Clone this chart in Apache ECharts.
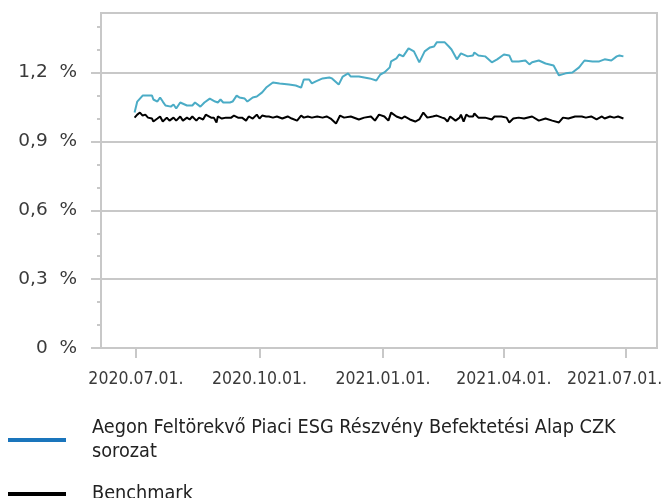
<!DOCTYPE html>
<html>
<head>
<meta charset="utf-8">
<script src="https://cdn.jsdelivr.net/npm/echarts@6/dist/echarts.min.js"></script>
<style>
html,body{margin:0;padding:0;background:#fff;}
#chart{width:664px;height:498px;}
</style>
</head>
<body>
<div id="chart"></div>
<script>
const fundName = 'Aegon Feltörekvő Piaci ESG Részvény Befektetési Alap CZK sorozat';
const benchName = 'Benchmark';

const fundDates = ['2020-06-30','2020-07-02','2020-07-06','2020-07-13','2020-07-14','2020-07-17','2020-07-19','2020-07-21','2020-07-23','2020-07-27','2020-07-29','2020-07-31','2020-08-03','2020-08-08','2020-08-12','2020-08-14','2020-08-18','2020-08-21','2020-08-25','2020-08-29','2020-08-31','2020-09-02','2020-09-04','2020-09-09','2020-09-11','2020-09-14','2020-09-16','2020-09-20','2020-09-22','2020-09-26','2020-09-29','2020-10-03','2020-10-06','2020-10-11','2020-10-16','2020-10-23','2020-10-28','2020-11-01','2020-11-03','2020-11-07','2020-11-09','2020-11-12','2020-11-17','2020-11-22','2020-11-24','2020-11-29','2020-12-02','2020-12-06','2020-12-08','2020-12-14','2020-12-18','2020-12-22','2020-12-27','2020-12-30','2021-01-02','2021-01-06','2021-01-07','2021-01-11','2021-01-13','2021-01-16','2021-01-20','2021-01-24','2021-01-28','2021-02-01','2021-02-05','2021-02-08','2021-02-10','2021-02-16','2021-02-19','2021-02-21','2021-02-25','2021-02-28','2021-03-05','2021-03-09','2021-03-10','2021-03-13','2021-03-18','2021-03-23','2021-03-27','2021-04-01','2021-04-05','2021-04-07','2021-04-12','2021-04-17','2021-04-20','2021-04-22','2021-04-27','2021-05-02','2021-05-08','2021-05-12','2021-05-17','2021-05-22','2021-05-27','2021-05-31','2021-06-06','2021-06-11','2021-06-15','2021-06-20','2021-06-24','2021-06-26','2021-06-29'];
const fundValues = [1.026,1.074,1.100,1.100,1.083,1.074,1.092,1.074,1.057,1.052,1.061,1.044,1.070,1.057,1.057,1.070,1.052,1.070,1.087,1.074,1.070,1.083,1.070,1.070,1.074,1.100,1.092,1.087,1.074,1.092,1.096,1.114,1.135,1.157,1.153,1.148,1.144,1.135,1.170,1.170,1.153,1.162,1.175,1.179,1.175,1.148,1.183,1.197,1.183,1.183,1.179,1.175,1.166,1.192,1.201,1.223,1.249,1.262,1.279,1.271,1.306,1.293,1.245,1.293,1.310,1.314,1.332,1.332,1.314,1.301,1.258,1.284,1.271,1.275,1.288,1.275,1.271,1.245,1.258,1.279,1.275,1.249,1.249,1.253,1.236,1.245,1.253,1.240,1.231,1.188,1.197,1.201,1.223,1.253,1.249,1.249,1.258,1.253,1.271,1.275,1.271];

const benchDates = ['2020-06-30','2020-07-02','2020-07-04','2020-07-06','2020-07-08','2020-07-10','2020-07-13','2020-07-14','2020-07-17','2020-07-19','2020-07-21','2020-07-24','2020-07-26','2020-07-29','2020-07-31','2020-08-03','2020-08-05','2020-08-08','2020-08-10','2020-08-12','2020-08-15','2020-08-17','2020-08-20','2020-08-22','2020-08-26','2020-08-28','2020-08-30','2020-08-31','2020-09-03','2020-09-06','2020-09-10','2020-09-12','2020-09-15','2020-09-18','2020-09-21','2020-09-23','2020-09-26','2020-09-29','2020-10-01','2020-10-03','2020-10-06','2020-10-08','2020-10-11','2020-10-14','2020-10-18','2020-10-22','2020-10-25','2020-10-29','2020-11-01','2020-11-03','2020-11-06','2020-11-09','2020-11-13','2020-11-17','2020-11-20','2020-11-23','2020-11-27','2020-11-30','2020-12-03','2020-12-08','2020-12-14','2020-12-18','2020-12-23','2020-12-26','2020-12-29','2021-01-02','2021-01-05','2021-01-07','2021-01-11','2021-01-15','2021-01-17','2021-01-21','2021-01-25','2021-01-28','2021-01-31','2021-02-03','2021-02-07','2021-02-10','2021-02-14','2021-02-16','2021-02-18','2021-02-20','2021-02-24','2021-02-27','2021-02-28','2021-03-02','2021-03-04','2021-03-06','2021-03-09','2021-03-10','2021-03-13','2021-03-18','2021-03-23','2021-03-25','2021-03-30','2021-04-03','2021-04-05','2021-04-08','2021-04-12','2021-04-16','2021-04-22','2021-04-27','2021-05-02','2021-05-07','2021-05-12','2021-05-15','2021-05-19','2021-05-24','2021-05-29','2021-06-01','2021-06-05','2021-06-09','2021-06-13','2021-06-15','2021-06-19','2021-06-22','2021-06-25','2021-06-29'];
const benchValues = [1.004,1.017,1.026,1.013,1.017,1.004,1.000,0.987,1.000,1.009,0.987,1.004,0.991,1.004,0.991,1.009,0.991,1.004,0.996,1.009,0.991,1.004,0.996,1.017,1.004,1.004,0.983,1.009,1.000,1.004,1.004,1.013,1.004,1.004,0.991,1.009,1.000,1.017,1.000,1.013,1.009,1.009,1.004,1.009,1.000,1.009,1.000,0.991,1.013,1.004,1.009,1.004,1.009,1.004,1.009,1.000,0.978,1.013,1.004,1.009,0.996,1.004,1.009,0.991,1.017,1.009,0.991,1.026,1.009,1.000,1.009,0.996,0.987,0.996,1.026,1.004,1.009,1.013,1.004,1.000,0.987,1.009,0.991,1.004,1.017,0.987,1.017,1.009,1.009,1.022,1.004,1.004,0.996,1.009,1.009,1.004,0.983,1.000,1.004,1.000,1.009,0.991,1.000,0.991,0.983,1.004,1.000,1.009,1.009,1.004,1.009,0.996,1.009,1.000,1.009,1.004,1.009,1.000];

const yTickValues = [0, 0.3, 0.6, 0.9, 1.2];
const yMinorTickValues = [0.1, 0.2, 0.4, 0.5, 0.7, 0.8, 1.0, 1.1, 1.3, 1.4];
const xTickDates = ['2020-07-01', '2020-10-01', '2021-01-01', '2021-04-01', '2021-07-01'];
const xRange = ['2020-06-05', '2021-07-24'];

function ts(s) {
  const p = s.split('-').map(Number);
  return new Date(p[0], p[1] - 1, p[2]).getTime();
}
function pad(n) { return (n < 10 ? '0' : '') + n; }
function fmtDate(v) {
  const d = new Date(v);
  const s = d.getFullYear() + '.' + pad(d.getMonth() + 1) + '.' + pad(d.getDate()) + '.';
  return v === ts(xTickDates[xTickDates.length - 1]) ? '{last|' + s + '}' : s;
}

const condFont = '"DejaVu Sans Condensed", "DejaVu Sans", sans-serif';
const wideFont = '"DejaVu Sans", sans-serif';
const gridColor = '#c8c8c8';
const textColor = '#3a3a3a';

const legendBase = {
  orient: 'vertical', left: 8, padding: 0,
  icon: 'rect', itemWidth: 58, itemHeight: 4,
  formatter: function (name) {
    return name === fundName ? 'Aegon Feltörekvő Piaci ESG Részvény Befektetési Alap CZK\nsorozat' : name;
  },
  textStyle: {
    fontFamily: condFont, fontSize: 19.7, color: '#222', lineHeight: 24,
    padding: [0, 0, 0, 21]
  }
};

const chart = echarts.init(document.getElementById('chart'), null, { renderer: 'canvas' });
chart.setOption({
  animation: false,
  backgroundColor: '#fff',
  grid: {
    left: 101, right: 7, top: 13, bottom: 150,
    outerBoundsMode: 'none', containLabel: false,
    show: true, borderColor: gridColor, borderWidth: 2, backgroundColor: 'transparent'
  },
  legend: [
    Object.assign({}, legendBase, {
      top: 416,
      data: [{ name: fundName, itemStyle: { color: '#1a75bc' } }]
    }),
    Object.assign({}, legendBase, {
      top: 482,
      data: [{ name: benchName, itemStyle: { color: '#000000' } }]
    })
  ],
  xAxis: {
    type: 'value',
    min: ts(xRange[0]), max: ts(xRange[1]),
    axisLine: { show: true, lineStyle: { color: gridColor, width: 2 } },
    axisTick: {
      show: true, length: 10, customValues: xTickDates.map(ts),
      lineStyle: { color: gridColor, width: 2 }
    },
    axisLabel: {
      customValues: xTickDates.map(ts),
      formatter: fmtDate,
      fontFamily: condFont, fontSize: 17.5, color: textColor, margin: 22,
      rich: {
        last: { fontFamily: condFont, fontSize: 17.5, color: textColor, padding: [0, 23, 0, 0] }
      }
    },
    splitLine: { show: false }
  },
  yAxis: [
    {
      type: 'value', min: 0, max: 1.46, interval: 0.3,
      axisLine: { show: true, lineStyle: { color: gridColor, width: 2 } },
      axisTick: {
        show: true, length: 10, customValues: yTickValues,
        lineStyle: { color: gridColor, width: 2 }
      },
      axisLabel: {
        customValues: yTickValues,
        formatter: function (v) {
          const s = v === 0 ? '0' : v.toFixed(1).replace('.', ',');
          return s + '  %';
        },
        fontFamily: wideFont, fontSize: 18.5, color: textColor, margin: 24
      },
      splitLine: { show: true, lineStyle: { color: gridColor, width: 2 } }
    },
    {
      type: 'value', min: 0, max: 1.46, position: 'left',
      axisLine: { show: false },
      axisTick: {
        show: true, length: 4, customValues: yMinorTickValues,
        lineStyle: { color: gridColor, width: 2 }
      },
      axisLabel: { show: false },
      splitLine: { show: false }
    }
  ],
  series: [
    {
      name: fundName, type: 'line', yAxisIndex: 0,
      showSymbol: false, symbol: 'none',
      data: fundDates.map((d, i) => [ts(d), fundValues[i]]),
      lineStyle: { color: '#4bacc6', width: 2 },
      itemStyle: { color: '#1a75bc' },
      z: 3
    },
    {
      name: benchName, type: 'line', yAxisIndex: 0,
      showSymbol: false, symbol: 'none',
      data: benchDates.map((d, i) => [ts(d), benchValues[i]]),
      lineStyle: { color: '#000000', width: 2 },
      itemStyle: { color: '#000000' },
      z: 2
    }
  ]
});
</script>
</body>
</html>
